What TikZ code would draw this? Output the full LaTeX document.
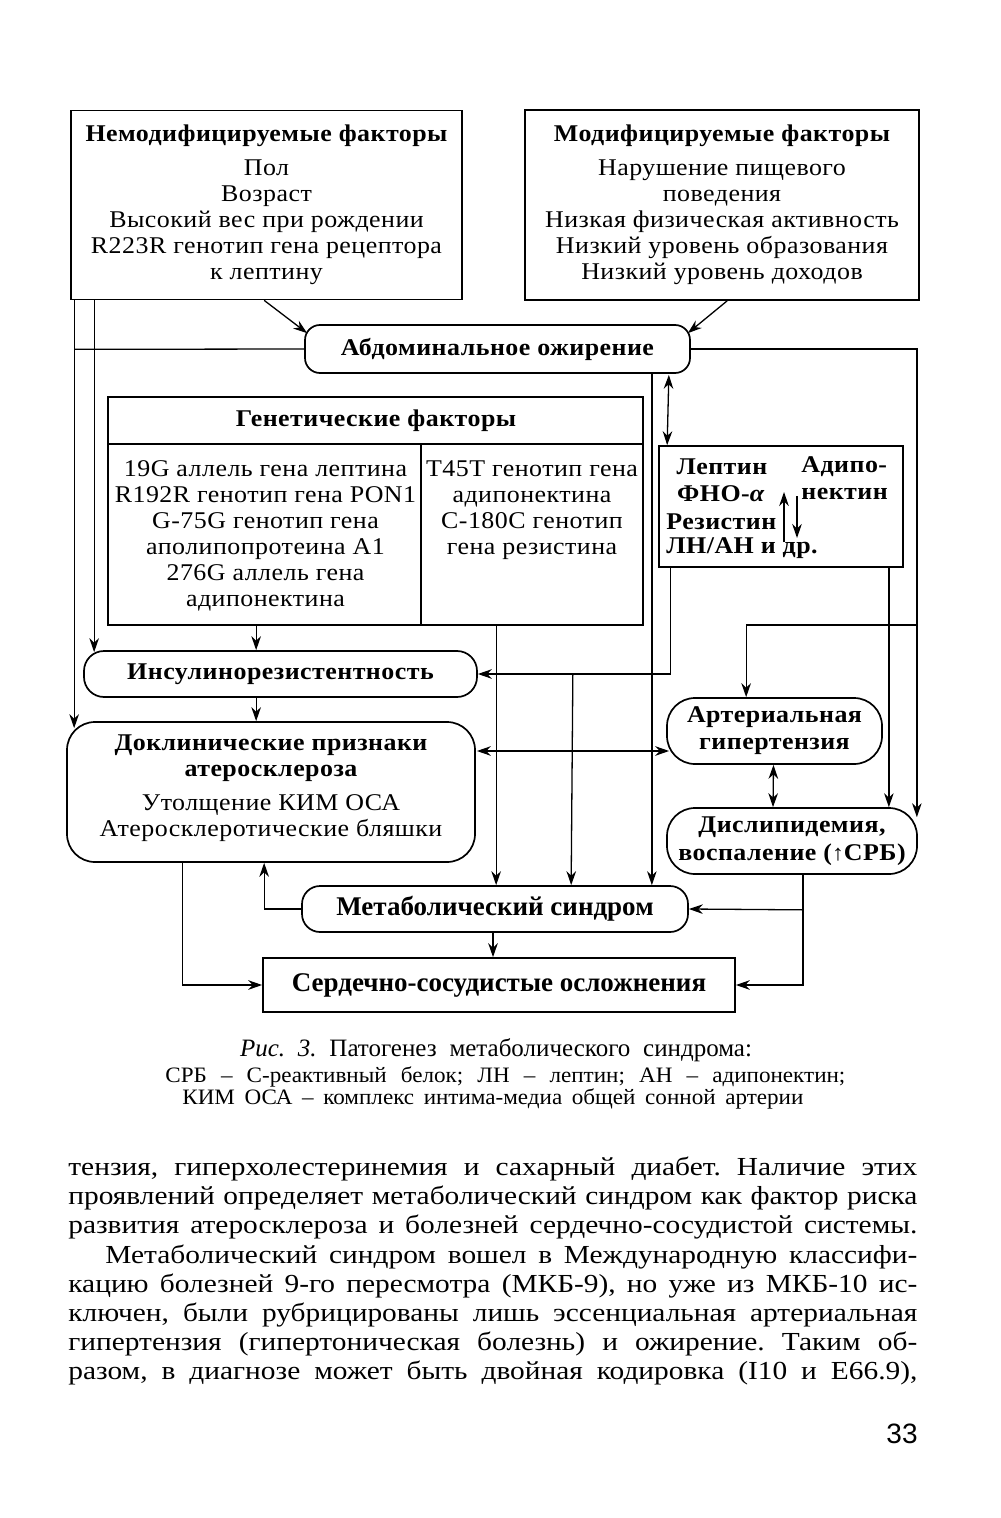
\documentclass[tikz,border=0pt]{standalone}
\usepackage{fontspec}
\setmainfont{Liberation Serif}
\newfontfamily\dgfam[FakeStretch=1.08,LetterSpace=2]{Liberation Serif}
\newfontfamily\condfam{Liberation Serif}
\newfontfamily\bodyfam[FakeStretch=1.13]{Liberation Serif}
\newfontfamily\capfam{Liberation Serif}
\newfontfamily\capfamB[FakeStretch=1.05]{Liberation Serif}
\newfontfamily\numfam{Liberation Sans}
\newcommand\mydg{\dgfam\fontsize{12}{13}\selectfont}
\newcommand\mycond{\condfam\bfseries\fontsize{13.5}{15}\selectfont}
\newcommand\mybody{\bodyfam\fontsize{13}{14.5}\selectfont}
\newcommand\mycapA{\capfam\fontsize{12.5}{13}\selectfont}
\newcommand\mycapB{\capfamB\fontsize{11}{12}\selectfont}
\frenchspacing
\usetikzlibrary{arrows.meta,calc}
\tikzset{
  box/.style={draw, line width=0.85pt, inner sep=0pt},
  txt/.style={inner sep=0pt, align=center, font=\mydg},
  ln/.style={line width=0.65pt},
  arr/.style={ln, -{Stealth[length=7pt,width=4.8pt]}},
  darr/.style={ln, {Stealth[length=7pt,width=4.8pt]}-{Stealth[length=7pt,width=4.8pt]}},
  bodyl/.style={inner sep=0pt, anchor=base west, font=\mybody},
}
\begin{document}
\begin{tikzpicture}[x=0.5pt,y=-0.5pt]
\useasboundingbox (0,0) rectangle (1000,1518);

% ---------- boxes ----------
\node[box, txt, minimum width=195.5pt, minimum height=94.5pt] (nmod) at (266.5,205)
  {{\bfseries Немодифицируемые факторы}\\[4pt] Пол\\ Возраст\\ Высокий вес при рождении\\ R223R генотип гена рецептора\\ к лептину};
\node[box, txt, minimum width=197pt, minimum height=95pt] (mod) at (722,205)
  {{\bfseries Модифицируемые факторы}\\[4pt] Нарушение пищевого\\ поведения\\ Низкая физическая активность\\ Низкий уровень образования\\ Низкий уровень доходов};
\node[box, txt, rounded corners=7.5pt, minimum width=192.5pt, minimum height=24pt] (abd) at (497.5,349)
  {\bfseries Абдоминальное ожирение};

\node[box, minimum width=267.5pt, minimum height=114pt] (gen) at (375.5,511) {};
\draw[box] ($(gen.north west)+(0,48)$) -- ($(gen.north east)+(0,48)$);
\draw[box] ($(gen.north west)+(314,48)$) -- ($(gen.south west)+(314,0)$);
\node[txt] (gent) at (376,421) {\bfseries Генетические факторы};
\node[txt] (genl) at (265.5,536) {19G аллель гена лептина\\ R192R генотип гена PON1\\ G-75G генотип гена\\ аполипопротеина A1\\ 276G аллель гена\\ адипонектина};
\node[txt] (genr) at (532,510) {T45T генотип гена\\ адипонектина\\ C-180C генотип\\ гена резистина};

\node[box, minimum width=122pt, minimum height=60.5pt] (lep) at (781,506.5) {};
\node[txt] (l1) at (722,467) {\bfseries Лептин};
\node[txt] (l2) at (721,494) {\bfseries ФНО-\textit{α}};
\node[txt, anchor=west] (l3) at (666,522) {\bfseries Резистин};
\node[txt, anchor=west] (l4) at (666,548) {\bfseries ЛН/АН и др.};
\node[txt, anchor=west] (l5) at (801,467) {\bfseries Адипо-};
\node[txt, anchor=west] (l6) at (801,494) {\bfseries нектин};
\coordinate (ua1) at (784,542); \coordinate (ua2) at (784,492);
\coordinate (da1) at (797,496); \coordinate (da2) at (797,538);
\draw[arr] (ua1) -- (ua2);
\draw[arr] (da1) -- (da2);

\node[box, txt, rounded corners=10pt, minimum width=196.5pt, minimum height=23pt] (ins) at (280.5,674)
  {\bfseries Инсулинорезистентность};
\node[box, rounded corners=14pt, minimum width=204pt, minimum height=70pt] (dok) at (271,792) {};
\node[txt] (dokt) at (271,788) {{\bfseries Доклинические признаки}\\ {\bfseries атеросклероза}\\[4pt] Утолщение КИМ ОСА\\ Атеросклеротические бляшки};
\node[box, txt, rounded corners=14pt, minimum width=107.5pt, minimum height=33pt] (art) at (774.5,731)
  {\bfseries Артериальная\\[0.5pt] \bfseries гипертензия};
\node[box, txt, rounded corners=14pt, minimum width=125pt, minimum height=33pt] (dis) at (792,841)
  {\bfseries Дислипидемия,\\[1pt] \bfseries воспаление ({\mdseries\fontsize{11}{11}\selectfont ↑}СРБ)};
\node[box, inner sep=0pt, rounded corners=9pt, minimum width=193pt, minimum height=23pt, font=\mycond] (met) at (495,909)
  {Метаболический синдром};
\node[box, inner sep=0pt, minimum width=236pt, minimum height=27pt, font=\mycond] (ser) at (499,985)
  {Сердечно-сосудистые осложнения};

% ---------- connectors ----------
\draw[arr] ($(nmod.south west)+(194,0)$) -- ($(abd.north west)+(3,9)$);
\draw[arr] ($(mod.south west)+(203,0)$) -- ($(abd.north east)+(-3,9)$);
\draw[arr] ($(nmod.south west)+(4,0)$) -- ($(dok.north west)+(8,7)$);
\draw[arr] ($(nmod.south west)+(24,0)$) -- ($(ins.north west)+(11,2)$);
\draw[ln] (abd.west) -- ($(nmod.south west)+(4,49)$);
\draw[arr] (abd.east) -| ($(dis.north east)+(-1,10)$);
\coordinate (jR) at (916,625);
\draw[arr] (jR) -| ($(art.north west)+(80,0)$);
\draw[arr] ($(abd.south east)+(-39,0)$) -- ($(met.north east)+(-37,0)$);
\draw[darr] ($(abd.south east)+(-22,1)$) -- ($(lep.north west)+(9,0)$);
\draw[arr] ($(lep.south west)+(12,0)$) |- (ins.east);
\draw[arr] ($(ins.east)+(95,0)$) -- ($(met.north west)+(270,0)$);
\draw[arr] ($(gen.south west)+(389,0)$) -- ($(met.north west)+(195,0)$);
\draw[arr] ($(gen.south west)+(149,0)$) -- ($(ins.north west)+(173,0)$);
\draw[arr] ($(ins.south west)+(173,0)$) -- ($(dok.north west)+(190,0)$);
\draw[arr] ($(lep.south east)+(-15,0)$) -- ($(dis.north east)+(-29,0)$);
\draw[darr] ($(dok.east)+(1,-41)$) -- ($(art.west)+(3,20)$);
\draw[darr] ($(art.south)+(-1,0)$) -- ($(dis.north)+(-19,0)$);
\draw[arr] ($(dis.south)+(11,0)$) |- (ser.east);
\draw[arr] ($(dis.south)+(11,35)$) -- (met.east);
\draw[arr] ($(dok.south west)+(116,0)$) |- (ser.west);
\draw[arr] (met.west) -| ($(dok.south west)+(198,0)$);
\draw[arr] ($(met.south)+(-2,0)$) -- ($(ser.north)+(-6,0)$);

% ---------- caption ----------
\node[inner sep=0pt, anchor=base, font=\mycapA] (cap1) at (496,1056)
  {\makebox[256pt][s]{\textit{Рис. 3.} Патогенез метаболического синдрома:}};
\node[inner sep=0pt, anchor=base west, font=\mycapB] (cap2) at (165,1082)
  {\makebox[340pt][s]{СРБ – С-реактивный белок; ЛН – лептин; АН – адипонектин;}};
\node[inner sep=0pt, anchor=base west, font=\mycapB] (cap3) at (182,1104)
  {\makebox[310.5pt][s]{КИМ ОСА – комплекс интима-медиа общей сонной артерии}};

% ---------- body text ----------
\node[bodyl] (b1) at (68,1175) {\makebox[424.5pt][s]{тензия, гиперхолестеринемия и сахарный диабет. Наличие этих}};
\node[bodyl] (b2) at (68,1204) {\makebox[424.5pt][s]{проявлений определяет метаболический синдром как фактор риска}};
\node[bodyl] (b3) at (68,1233) {\makebox[424.5pt][s]{развития атеросклероза и болезней сердечно-сосудистой системы.}};
\node[bodyl] (b4) at (105,1263) {\makebox[406pt][s]{Метаболический синдром вошел в Международную классифи-}};
\node[bodyl] (b5) at (68,1292) {\makebox[424.5pt][s]{кацию болезней 9-го пересмотра (МКБ-9), но уже из МКБ-10 ис-}};
\node[bodyl] (b6) at (68,1321) {\makebox[424.5pt][s]{ключен, были рубрицированы лишь эссенциальная артериальная}};
\node[bodyl] (b7) at (68,1350) {\makebox[424.5pt][s]{гипертензия (гипертоническая болезнь) и ожирение. Таким об-}};
\node[bodyl] (b8) at (68,1379) {\makebox[424.5pt][s]{разом, в диагнозе может быть двойная кодировка (I10 и E66.9),}};

\node[inner sep=0pt, font=\numfam\fontsize{14}{14}\selectfont] (pg) at (902,1434) {33};
\end{tikzpicture}
\end{document}
